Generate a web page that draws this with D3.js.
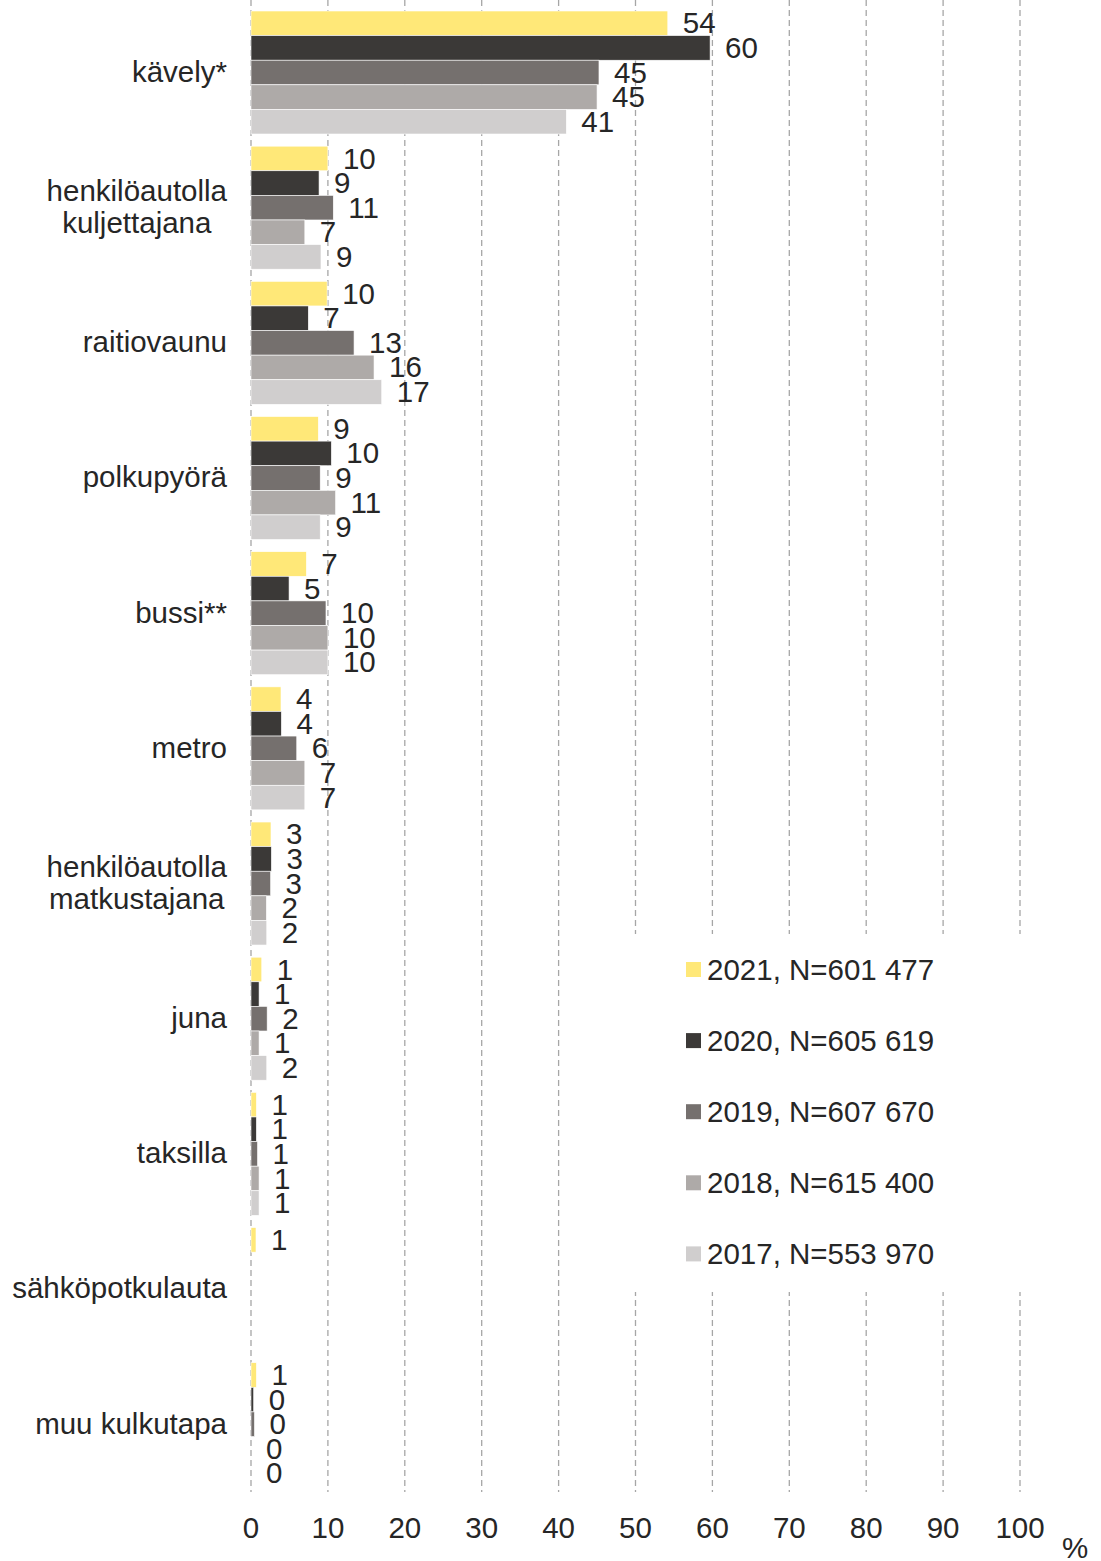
<!DOCTYPE html>
<html>
<head>
<meta charset="utf-8">
<script src="https://cdn.jsdelivr.net/npm/d3@7"></script>
<style>
  html, body { margin: 0; padding: 0; background: #fff; }
  text { font-family: "Liberation Sans", Arial, sans-serif; fill: #262626; }
</style>
</head>
<body>
<svg id="chart" width="1101" height="1561"></svg>
<script>
// ---- data ----
const categories = [
  "kävely*",
  "henkilöautolla\nkuljettajana",
  "raitiovaunu",
  "polkupyörä",
  "bussi**",
  "metro",
  "henkilöautolla\nmatkustajana",
  "juna",
  "taksilla",
  "sähköpotkulauta",
  "muu kulkutapa"
];
const seriesNames = ["2021, N=601 477", "2020, N=605 619", "2019, N=607 670", "2018, N=615 400", "2017, N=553 970"];
const v2021 = [54.2, 10.0, 9.9, 8.75, 7.2, 3.9, 2.6, 1.4, 0.7, 0.65, 0.7];
const v2020 = [59.7, 8.85, 7.45, 10.45, 4.95, 3.95, 2.65, 1.05, 0.7, null, 0.35];
const v2019 = [45.25, 10.7, 13.4, 9.0, 9.75, 5.95, 2.55, 2.1, 0.85, null, 0.45];
const v2018 = [45.0, 7.0, 16.0, 11.0, 10.0, 7.0, 2.0, 1.05, 1.05, null, 0.0];
const v2017 = [41.0, 9.1, 17.0, 9.0, 10.0, 7.0, 2.05, 2.05, 1.05, null, 0.0];
const xTicks = [0, 10, 20, 30, 40, 50, 60, 70, 80, 90, 100];
const colors = ["#FFE878", "#3B3937", "#75706E", "#AEAAA8", "#D0CECE"];

const seriesValues = [v2021, v2020, v2019, v2018, v2017];
const fontSize = 29.5;

const svg = d3.select("#chart");

const x = d3.scaleLinear().domain([0, 100]).range([251, 1020]);
const y0 = d3.scaleBand().domain(categories).range([4.92, 1491.8]).paddingInner(0.09).paddingOuter(0.045);
const y1 = d3.scaleBand().domain(seriesNames).range([0, y0.bandwidth()]);

// gridlines (dashed, including 0)
svg.append("g").selectAll("line").data(xTicks).join("line")
  .attr("x1", d => x(d)).attr("x2", d => x(d))
  .attr("y1", 0).attr("y2", 1492)
  .attr("stroke", "#A6A6A6").attr("stroke-width", 1.3)
  .attr("stroke-dasharray", "6,4");

// bars
const rows = [];
categories.forEach((c, i) => {
  seriesNames.forEach((s, j) => {
    const v = seriesValues[j][i];
    if (v !== null && v !== undefined) rows.push({cat: c, ser: s, j, v});
  });
});

const g = svg.append("g");
g.selectAll("rect").data(rows).join("rect")
  .attr("x", x(0))
  .attr("y", d => y0(d.cat) + y1(d.ser))
  .attr("width", d => Math.max(0, x(d.v) - x(0)))
  .attr("height", y1.bandwidth())
  .attr("fill", d => colors[d.j])
  .attr("stroke", "#fff").attr("stroke-width", 0.6);

const fmt = d3.format(".0f");
g.selectAll("text.val").data(rows).join("text")
  .attr("class", "val")
  .attr("x", d => x(d.v) + 15)
  .attr("y", d => y0(d.cat) + y1(d.ser) + y1.bandwidth() / 2)
  .attr("dy", "0.34em")
  .attr("font-size", fontSize)
  .text(d => fmt(d.v));

// category labels
const catG = svg.append("g");
categories.forEach(c => {
  const lines = c.split("\n");
  const cy = y0(c) + y0.bandwidth() / 2;
  const lh = 32;
  const t = catG.append("text").attr("font-size", fontSize);
  const spans = lines.map((ln, k) => t.append("tspan")
    .attr("y", cy + (k - (lines.length - 1) / 2) * lh)
    .attr("dy", "0.32em")
    .text(ln));
  if (lines.length === 1) {
    t.attr("text-anchor", "end");
    spans.forEach(s => s.attr("x", 227));
  } else {
    const widths = spans.map(s => s.node().getComputedTextLength());
    const maxW = d3.max(widths);
    t.attr("text-anchor", "middle");
    spans.forEach(s => s.attr("x", 227 - maxW / 2));
  }
});

// x axis labels
svg.append("g").selectAll("text").data(xTicks).join("text")
  .attr("x", d => x(d)).attr("y", 1537.5)
  .attr("text-anchor", "middle")
  .attr("font-size", fontSize)
  .text(d => d);
svg.append("text").attr("x", 1062).attr("y", 1558)
  .attr("font-size", fontSize).text("%");

// legend
const lg = svg.append("g");
lg.append("rect").attr("x", 625).attr("y", 934).attr("width", 440).attr("height", 358).attr("fill", "#fff");
seriesNames.forEach((s, j) => {
  const cy = 969.5 + j * 71.1;
  lg.append("rect").attr("x", 686).attr("y", cy - 7.5).attr("width", 15).attr("height", 15).attr("fill", colors[j]);
  lg.append("text").attr("x", 707).attr("y", cy).attr("dy", "0.355em")
    .attr("font-size", fontSize).text(s);
});
</script>
</body>
</html>
